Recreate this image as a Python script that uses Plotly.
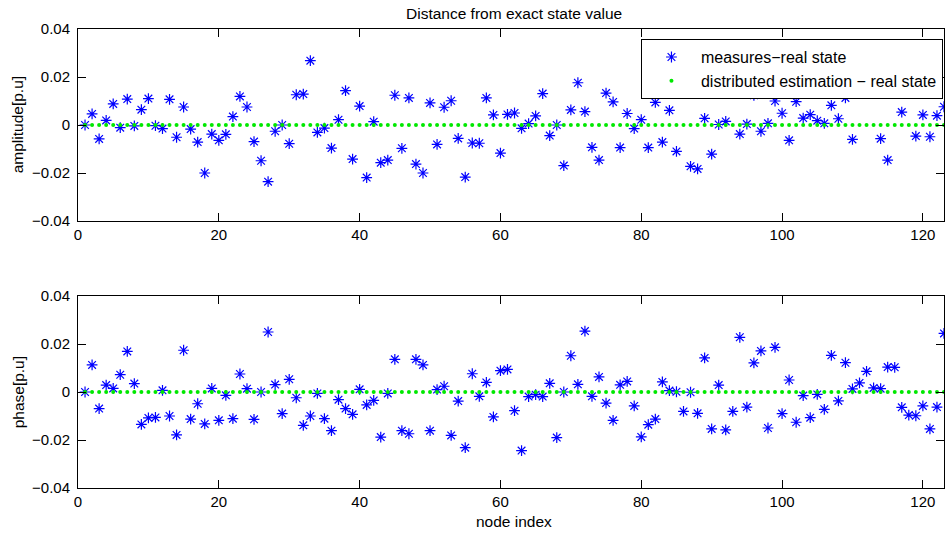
import plotly.graph_objects as go

nodes = list(range(1, 124))

amp_meas = [
    0.0000, 0.0046, -0.0058, 0.0019, 0.0088, -0.0011, 0.0108, -0.0004, 0.0064, 0.0110,
    -0.0003, -0.0015, 0.0107, -0.0051, 0.0075, -0.0017, -0.0071, -0.0200, -0.0038, -0.0064,
    -0.0039, 0.0035, 0.0119, 0.0075, -0.0069, -0.0149, -0.0236, -0.0026, 0.0000, -0.0078,
    0.0126, 0.0129, 0.0268, -0.0031, -0.0013, -0.0096, 0.0022, 0.0143, -0.0142, 0.0079,
    -0.0219, 0.0014, -0.0157, -0.0146, 0.0124, -0.0097, 0.0113, -0.0163, -0.0200, 0.0092,
    -0.0081, 0.0074, 0.0101, -0.0056, -0.0217, -0.0075, -0.0076, 0.0113, 0.0042, -0.0117,
    0.0044, 0.0050, -0.0014, 0.0006, 0.0038, 0.0131, -0.0044, 0.0000, -0.0169, 0.0063,
    0.0176, 0.0056, -0.0093, -0.0146, 0.0133, 0.0096, -0.0094, 0.0048, -0.0015, 0.0022,
    -0.0094, 0.0094, -0.0071, 0.0061, -0.0110, 0.0164, -0.0172, -0.0183, 0.0028, -0.0121,
    0.0002, 0.0015, 0.0250, -0.0038, 0.0004, 0.0124, -0.0026, 0.0007, 0.0100, 0.0049,
    -0.0064, 0.0097, 0.0029, 0.0043, 0.0018, 0.0007, 0.0082, 0.0026, 0.0113, -0.0060,
    0.0174, 0.0158, 0.0135, -0.0057, -0.0146, 0.0179, 0.0054, 0.0182, -0.0046, 0.0042,
    -0.0049, 0.0039, 0.0076,
]

phase_meas = [
    0.0000, 0.0113, -0.0069, 0.0029, 0.0015, 0.0072, 0.0169, 0.0035, -0.0135, -0.0108,
    -0.0106, 0.0007, -0.0100, -0.0179, 0.0174, -0.0113, -0.0049, -0.0133, 0.0015, -0.0118,
    -0.0014, -0.0111, 0.0075, 0.0014, -0.0114, 0.0000, 0.0250, 0.0031, -0.0090, 0.0053,
    -0.0024, -0.0139, -0.0100, -0.0006, -0.0111, -0.0161, -0.0032, -0.0069, -0.0093, 0.0011,
    -0.0054, -0.0035, -0.0188, -0.0006, 0.0136, -0.0161, -0.0174, 0.0136, 0.0113, -0.0161,
    0.0010, 0.0024, -0.0181, -0.0038, -0.0232, 0.0076, -0.0018, 0.0040, -0.0104, 0.0089,
    0.0094, -0.0078, -0.0244, -0.0019, -0.0011, -0.0019, 0.0036, -0.0190, 0.0000, 0.0151,
    0.0032, 0.0254, -0.0018, 0.0063, -0.0046, -0.0118, 0.0030, 0.0044, -0.0058, -0.0187,
    -0.0136, -0.0113, 0.0042, 0.0006, 0.0001, -0.0081, -0.0001, -0.0089, 0.0142, -0.0154,
    0.0029, -0.0158, -0.0081, 0.0228, -0.0063, 0.0121, 0.0171, -0.0150, 0.0186, -0.0090,
    0.0050, -0.0126, -0.0015, -0.0107, -0.0010, -0.0072, 0.0153, -0.0037, 0.0122, 0.0013,
    0.0038, 0.0086, 0.0017, 0.0014, 0.0104, 0.0103, -0.0064, -0.0096, -0.0099, -0.0058,
    -0.0154, -0.0063, 0.0244,
]

amp_est = [
    0, 0, 0, 0, 0, 0, 0, 0, 0, 0, 0, 0, 0, 0, 0, 0, 0, 0, 0, 0,
    0, 0, 0, 0, 0, 0, 0, 0, 0, 0, 0, 0, 0, 0, 0, 0, 0, 0, 0, 0,
    0, 0, 0, 0, 0, 0, 0, 0, 0, 0, 0, 0, 0, 0, 0, 0, 0, 0, 0, 0,
    0, 0, 0, 0, 0, 0, 0, 0, 0, 0, 0, 0, 0, 0, 0, 0, 0, 0, 0, 0,
    0, 0, 0, 0, 0, 0, 0, 0, 0, 0, 0, 0, 0, 0, 0, 0, 0, 0, 0, 0,
    0, 0, 0, 0, 0, 0, 0, 0, 0, 0, 0, 0, 0, 0, 0, 0, 0, 0, 0, 0,
    0, 0, 0,
]

phase_est = [
    0, 0, 0, 0, 0, 0, 0, 0, 0, 0, 0, 0, 0, 0, 0, 0, 0, 0, 0, 0,
    0, 0, 0, 0, 0, 0, 0, 0, 0, 0, 0, 0, 0, 0, 0, 0, 0, 0, 0, 0,
    0, 0, 0, 0, 0, 0, 0, 0, 0, 0, 0, 0, 0, 0, 0, 0, 0, 0, 0, 0,
    0, 0, 0, 0, 0, 0, 0, 0, 0, 0, 0, 0, 0, 0, 0, 0, 0, 0, 0, 0,
    0, 0, 0, 0, 0, 0, 0, 0, 0, 0, 0, 0, 0, 0, 0, 0, 0, 0, 0, 0,
    0, 0, 0, 0, 0, 0, 0, 0, 0, 0, 0, 0, 0, 0, 0, 0, 0, 0, 0, 0,
    0, 0, 0,
]

x_ticks = [0, 20, 40, 60, 80, 100, 120]
y_ticks = [-0.04, -0.02, 0, 0.02, 0.04]
y_ticktext = ["\u22120.04", "\u22120.02", "0", "0.02", "0.04"]

series_names = ["measures\u2212real state", "distributed estimation \u2212 real state"]
title_text = "Distance from exact state value"
ylabel_top = "amplitude[p.u]"
ylabel_bottom = "phase[p.u]"
xlabel_text = "node index"

FONT = "Liberation Sans, Arial, Helvetica, sans-serif"
BLUE = "#0000ff"
GREEN = "#00e800"

star = dict(symbol="asterisk-open", size=9, color=BLUE, line=dict(color=BLUE, width=1.2))
dot = dict(symbol="circle", size=4, color=GREEN, line=dict(width=0))

fig = go.Figure()
fig.add_trace(go.Scatter(x=nodes, y=amp_meas, mode="markers", marker=star,
                         name=series_names[0], xaxis="x", yaxis="y"))
fig.add_trace(go.Scatter(x=nodes, y=amp_est, mode="markers", marker=dot,
                         name=series_names[1], xaxis="x", yaxis="y"))
fig.add_trace(go.Scatter(x=nodes, y=phase_meas, mode="markers", marker=star,
                         showlegend=False, xaxis="x2", yaxis="y2"))
fig.add_trace(go.Scatter(x=nodes, y=phase_est, mode="markers", marker=dot,
                         showlegend=False, xaxis="x2", yaxis="y2"))

axis_common = dict(
    showline=True, linecolor="black", linewidth=1, mirror="ticks",
    ticks="inside", ticklen=8, tickwidth=1, tickcolor="black",
    showgrid=False, zeroline=False,
    tickfont=dict(family=FONT, size=15, color="black"),
)

fig.update_layout(
    width=945, height=533,
    margin=dict(l=78, r=1, t=29, b=45),
    paper_bgcolor="white", plot_bgcolor="white",
    font=dict(family=FONT, size=15, color="black"),
    xaxis=dict(domain=[0, 1], anchor="y", range=[0, 123], tickvals=x_ticks, **axis_common),
    yaxis=dict(domain=[0.5817, 1], anchor="x", range=[-0.04, 0.04], tickvals=y_ticks,
               ticktext=y_ticktext, ticklabelstandoff=4, **axis_common),
    xaxis2=dict(domain=[0, 1], anchor="y2", range=[0, 123], tickvals=x_ticks, **axis_common),
    yaxis2=dict(domain=[0, 0.4183], anchor="x2", range=[-0.04, 0.04], tickvals=y_ticks,
                ticktext=y_ticktext, ticklabelstandoff=4, **axis_common),
    showlegend=True,
    legend=dict(
        x=0.9988, y=0.978, xanchor="right", yanchor="top",
        bgcolor="white", bordercolor="black", borderwidth=1,
        font=dict(family=FONT, size=16, color="black"),
        itemwidth=49, tracegroupgap=0,
    ),
    annotations=[
        dict(text=title_text, x=0.5035, y=1.0338, xref="paper", yref="paper",
             xanchor="center", yanchor="middle", showarrow=False,
             font=dict(family=FONT, size=15.5, color="black")),
        dict(text=ylabel_top, x=-0.0689, y=0.7909, xref="paper", yref="paper",
             xanchor="center", yanchor="middle", textangle=-90, showarrow=False,
             font=dict(family=FONT, size=15.5, color="black")),
        dict(text=ylabel_bottom, x=-0.0689, y=0.2091, xref="paper", yref="paper",
             xanchor="center", yanchor="middle", textangle=-90, showarrow=False,
             font=dict(family=FONT, size=15.5, color="black")),
        dict(text=xlabel_text, x=0.5035, y=-0.0734, xref="paper", yref="paper",
             xanchor="center", yanchor="middle", showarrow=False,
             font=dict(family=FONT, size=15.5, color="black")),
    ],
)

fig.write_html(
    "out.html",
    config={"displayModeBar": False},
    post_script="document.body.style.margin='0';document.body.style.overflow='hidden';",
)
